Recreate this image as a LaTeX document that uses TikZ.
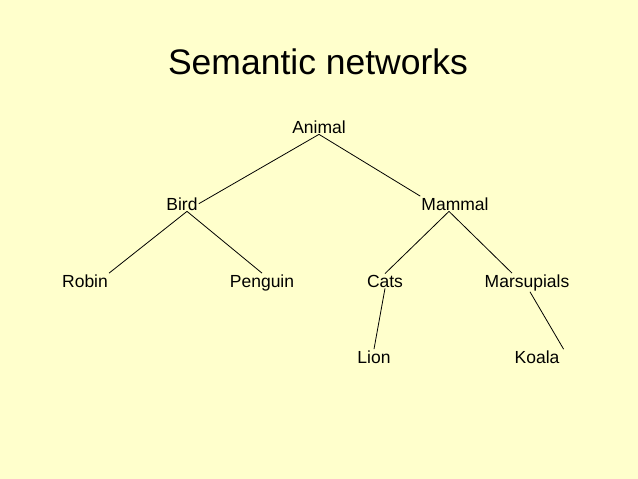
\documentclass[tikz,border=0pt]{standalone}
\usepackage{fontspec}
\setmainfont{Liberation Sans}
\definecolor{slidebg}{RGB}{255,255,204}
\begin{document}
\begin{tikzpicture}[x=1pt, y=-1pt,
		concept/.style={anchor=base, inner sep=1pt, font=\fontsize{17.5}{20}\selectfont},
		link/.style={black, line width=0.8pt}]
	% tlo slajdu
	\fill[slidebg] (0,0) rectangle (638,479);
	\useasboundingbox (0,0) rectangle (638,479);
	\node[anchor=base, font=\fontsize{35.5}{40}\selectfont] (title) at (318,74) {Semantic networks};
	% wezly sieci
	\node[concept] (animal) at (319,133) {Animal};
	\node[concept] (bird) at (182,210) {Bird};
	\node[concept] (mammal) at (455,210) {Mammal};
	\node[concept] (robin) at (85,287) {Robin};
	\node[concept] (penguin) at (262,287) {Penguin};
	\node[concept] (cats) at (385,287) {Cats};
	\node[concept] (marsupials) at (527,287) {Marsupials};
	\node[concept] (lion) at (374,363) {Lion};
	\node[concept] (koala) at (537,363) {Koala};
	% krawedzie
	\draw[link] (animal.south) -- (bird.east);
	\draw[link] (animal.south) -- (mammal.north west);
	\draw[link] ([xshift=5]bird.south) -- (robin.north east);
	\draw[link] ([xshift=5]bird.south) -- (penguin.north);
	\draw[link] ([xshift=-6]mammal.south) -- (cats.north);
	\draw[link] ([xshift=-6]mammal.south) -- ([xshift=-15]marsupials.north);
	\draw[link] (cats.south) -- (lion.north);
	\draw[link] ([xshift=3]marsupials.south) -- ([xshift=3]koala.north east);
\end{tikzpicture}
\end{document}
